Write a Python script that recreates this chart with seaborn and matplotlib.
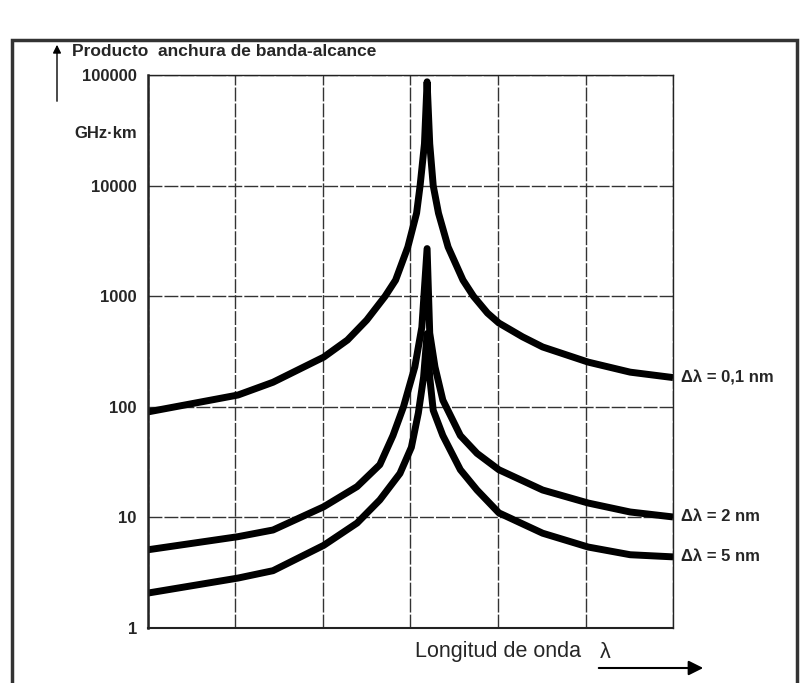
import pandas as pd
import seaborn as sns
from matplotlib import pyplot as plt
from matplotlib.patches import Rectangle, FancyArrowPatch

# values; x in grid units (0..6), y in GHz·km
x_01 = [0, 1.03, 1.43, 2.01, 2.12, 2.28, 2.50, 2.71, 2.83, 2.97, 3.07, 3.11,
        3.16, 3.19, 3.22, 3.26, 3.32, 3.43, 3.60, 3.72, 3.88, 4.01, 4.28,
        4.51, 5.03, 5.51, 6.0]
y_01 = [90, 128, 167, 282, 326, 402, 609, 1000, 1400, 2790, 5650, 10000,
        24000, 87000, 24000, 10000, 5650, 2790, 1400, 1000, 705, 573, 430,
        348, 254, 206, 184]

x_2 = [0, 1.03, 1.43, 2.01, 2.39, 2.65, 2.80, 2.92, 3.05, 3.13, 3.19,
       3.22, 3.28, 3.37, 3.57, 3.76, 4.01, 4.51, 5.03, 5.51, 6.0]
y_2 = [5.1, 6.7, 7.7, 12.5, 19, 30, 55, 100, 230, 525, 2700,
       465, 230, 115, 55, 38, 27, 17.7, 13.5, 11.2, 10.1]

x_5 = [0, 1.03, 1.43, 2.01, 2.39, 2.65, 2.88, 3.01, 3.09, 3.15, 3.19,
       3.22, 3.26, 3.37, 3.57, 3.76, 4.01, 4.51, 5.03, 5.51, 6.0]
y_5 = [2.07, 2.83, 3.3, 5.6, 8.9, 14.4, 25, 43, 88, 186, 460,
       186, 93, 55, 27, 17.7, 11, 7.2, 5.4, 4.6, 4.4]

series = ["Δλ = 0,1 nm", "Δλ = 2 nm", "Δλ = 5 nm"]
yticks = [1, 10, 100, 1000, 10000, 100000]
ytick_labels = ["1", "10", "100", "1000", "10000", "100000"]

df = pd.concat([
    pd.DataFrame({"x": x_01, "y": y_01, "serie": series[0]}),
    pd.DataFrame({"x": x_2, "y": y_2, "serie": series[1]}),
    pd.DataFrame({"x": x_5, "y": y_5, "serie": series[2]}),
])

sns.set_style("white")
plt.rcParams["font.family"] = ["Liberation Sans", "DejaVu Sans"]

fig = plt.figure(figsize=(8.08, 6.83), dpi=100)
ax = fig.add_axes([0.183, 0.0805, 0.650, 0.8095])

sns.lineplot(data=df, x="x", y="y", hue="serie", palette=["black"] * 3,
             linewidth=5, sort=False, legend=False, ax=ax,
             solid_joinstyle="round", solid_capstyle="butt")

ax.set_yscale("log")
ax.set_ylim(1, 100000)
ax.set_xlim(0, 6)
ax.set_xticks(range(7))
ax.set_xticklabels([])
ax.set_yticks(yticks)
ax.set_yticklabels(ytick_labels, fontweight="bold", fontsize=12)
ax.minorticks_off()
ax.tick_params(axis="y", length=6, width=1, color="black", pad=2)
ax.tick_params(axis="x", length=5, width=1, color="black", direction="out")
ax.grid(True, color="#333333", linewidth=1, linestyle=(0, (10, 1.5)))
for s in ax.spines.values():
    s.set_color("#222222")
    s.set_linewidth(1)
ax.spines["left"].set_linewidth(1.8)
ax.spines["bottom"].set_linewidth(1.5)
ax.set_xlabel("")
ax.set_ylabel("")

# labels at the right end of each curve
for name, yv in zip(series, [y_01[-1], y_2[-1], y_5[-1]]):
    ax.annotate(name, xy=(6, yv), xytext=(6, 0), textcoords="offset points",
                va="center", ha="left", fontsize=12, fontweight="bold")

# frame around everything
fig.patches.append(Rectangle((12 / 808, -0.01), 785 / 808, 1 - 40 / 683 + 0.01,
                             transform=fig.transFigure, fill=False,
                             edgecolor="#333333", linewidth=2.5))

fig.text(72 / 808, 1 - 52 / 683, "Producto  anchura de banda-alcance",
         fontsize=12.5, fontweight="bold", va="center", ha="left")
fig.text(137 / 808, 1 - 133 / 683, "GHz·km", fontsize=12, fontweight="bold",
         va="center", ha="right")
fig.patches.append(FancyArrowPatch((57 / 808, 1 - 104 / 683), (57 / 808, 1 - 42 / 683),
                                   transform=fig.transFigure, arrowstyle="-|>",
                                   mutation_scale=12, color="black", linewidth=1))

fig.text(415 / 808, 1 - 651 / 683, "Longitud de onda", fontsize=15.5,
         va="center", ha="left")
fig.text(600 / 808, 1 - 652 / 683, "λ", fontsize=15.5, va="center", ha="left")
fig.patches.append(FancyArrowPatch((596 / 808, 1 - 668 / 683), (706 / 808, 1 - 668 / 683),
                                   transform=fig.transFigure, arrowstyle="-|>",
                                   mutation_scale=22, color="black", linewidth=1.5))

plt.savefig("out.png", dpi=100)
plt.close()
